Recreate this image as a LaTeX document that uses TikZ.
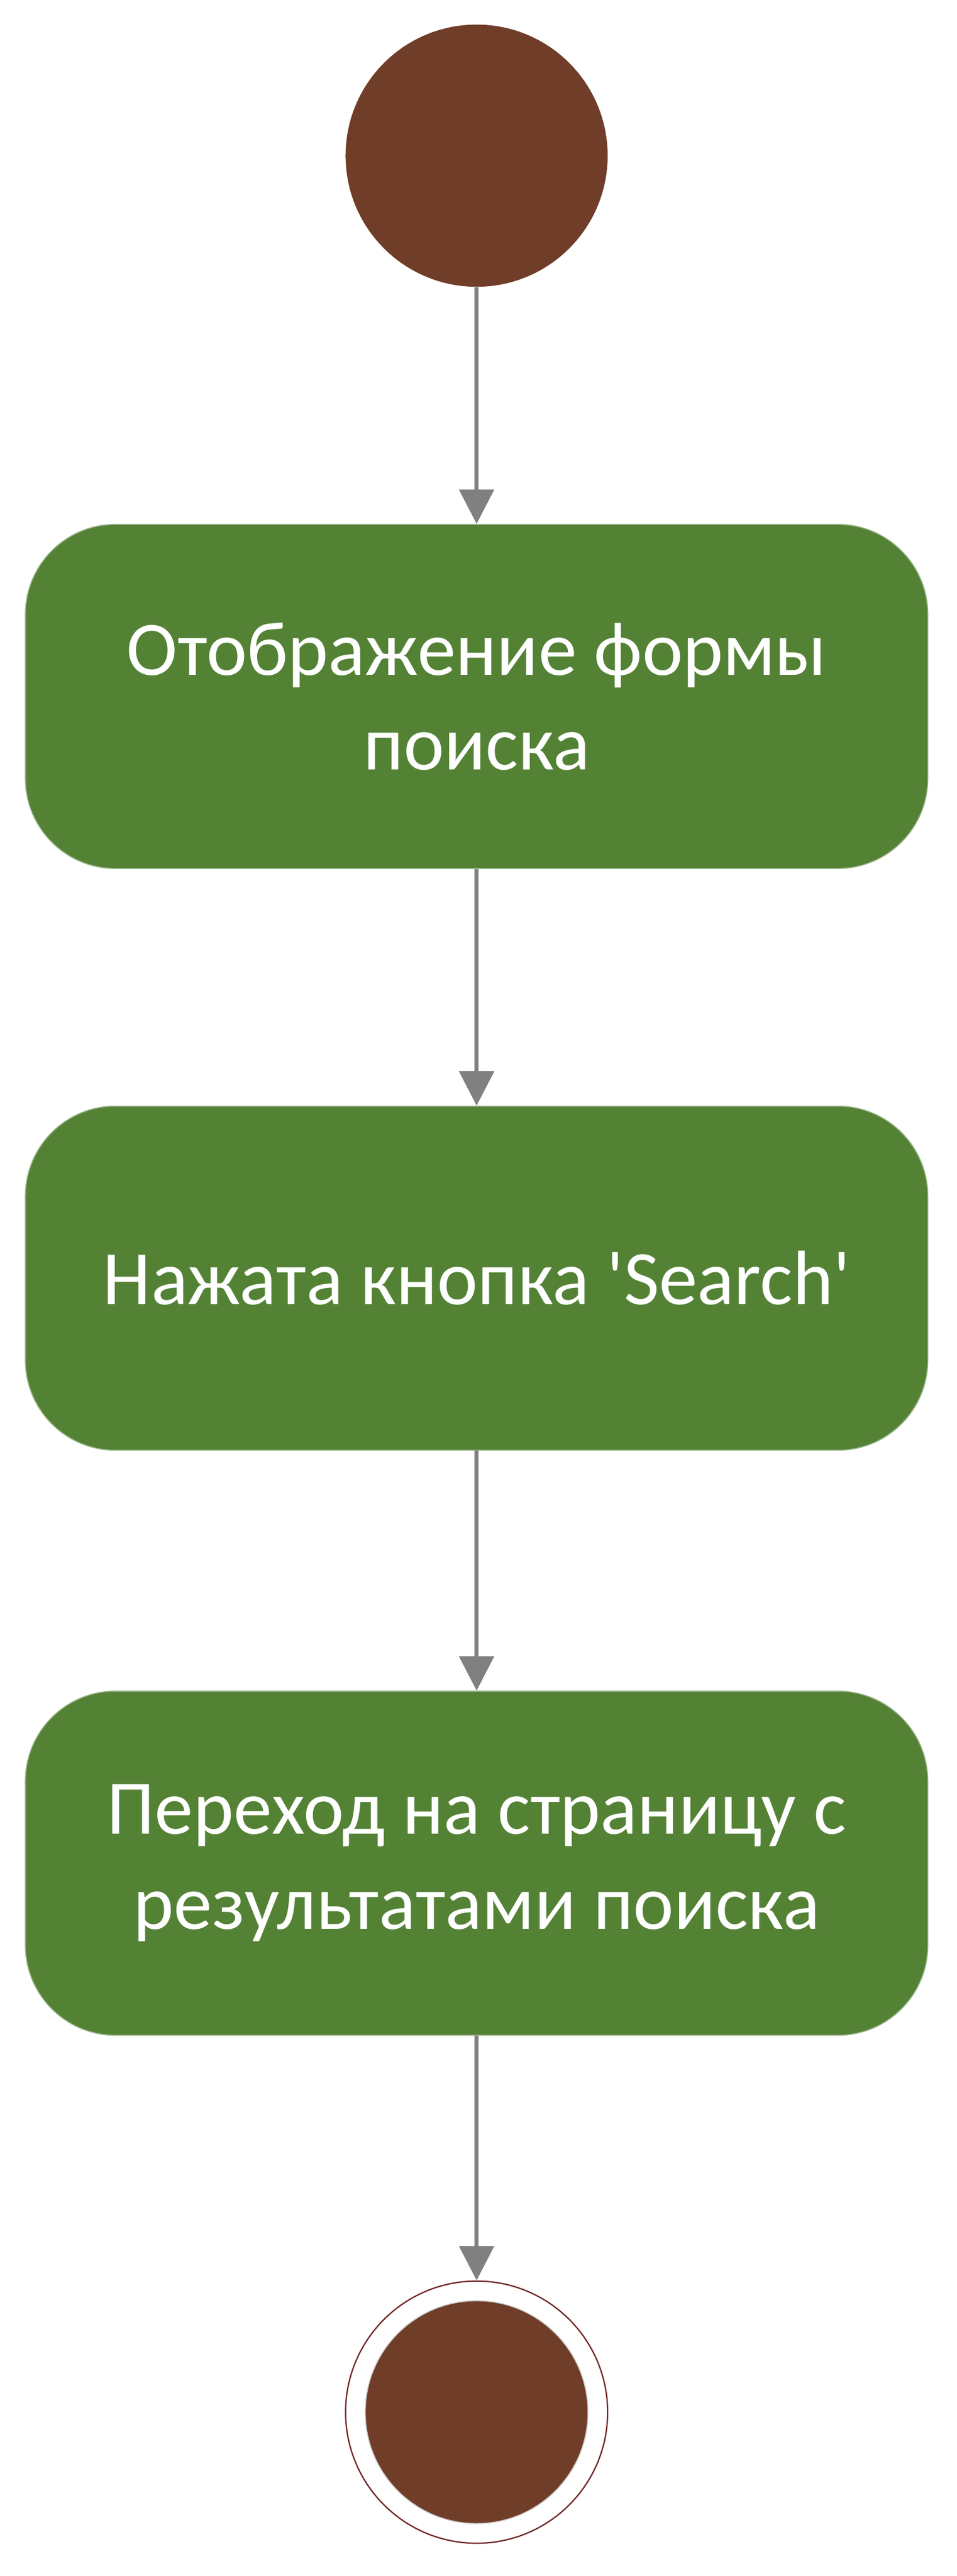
\documentclass[tikz,border=0pt]{standalone}
\usepackage{fontspec}
\setmainfont{Carlito}[Ligatures=TeXOff]
\usetikzlibrary{arrows.meta}
\definecolor{nodebrown}{RGB}{112,61,40}
\definecolor{actgreen}{RGB}{84,130,53}
\definecolor{ringred}{RGB}{112,36,36}
\definecolor{flowgray}{RGB}{128,128,128}
\begin{document}
\begin{tikzpicture}[x=1pt,y=1pt,yscale=-1,xscale=1,
  action/.style={rectangle,rounded corners=55pt,fill=actgreen,draw=actgreen!60!white,line width=0.6pt,
    minimum width=551pt,minimum height=210pt,inner sep=0pt,align=center,text=white,
    font=\fontsize{47}{58}\selectfont},
  startdot/.style={circle,fill=nodebrown,minimum size=160pt,inner sep=0pt},
  flow/.style={draw=flowgray,line width=2.5pt,-{Triangle[length=21pt,width=21pt]}}]
\useasboundingbox (0,0) rectangle (584,1572);
\fill[white] (0,0) rectangle (584,1572);

%Shape: Circle
\node[startdot] (start) at (291,95) {};
%Shape: Rounded Rect
\node[action] (form) at (291,425) {Отображение формы\\поиска};
\node[action] (search) at (291,780) {Нажата кнопка 'Search'};
\node[action] (results) at (291,1137) {Переход на страницу с\\результатами поиска};
%Shape: Circle
\node[circle,draw=ringred,line width=0.8pt,fill=white,minimum size=160pt,inner sep=0pt] (end) at (291,1472) {};
\node[startdot,minimum size=136pt,draw=black!20,line width=0.6pt] (enddot) at (end) {};

%Straight Lines
\draw[flow] (start) -- (form);
\draw[flow] (form) -- (search);
\draw[flow] (search) -- (results);
\draw[flow] (results) -- (end);

\end{tikzpicture}
\end{document}
